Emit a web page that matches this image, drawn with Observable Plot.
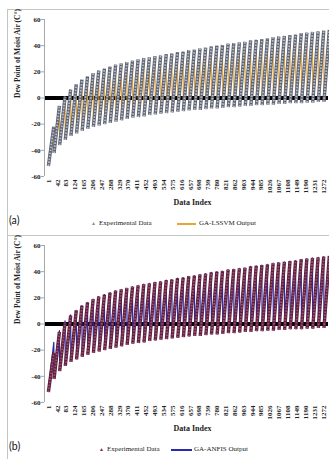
<!DOCTYPE html>
<html><head><meta charset="utf-8">
<script src="https://cdn.jsdelivr.net/npm/d3@7"></script>
<script src="https://cdn.jsdelivr.net/npm/@observablehq/plot@0.6"></script>
<style>
html,body{margin:0;padding:0;background:#fff;width:329px;height:459px;overflow:hidden;position:relative}
.frame{position:absolute;left:7px;width:400px;border:1px solid #c4c4c4;box-sizing:border-box}
.fig{position:absolute;left:0;width:329px}
.fig svg{display:block}
.leg{position:relative;height:24px;font-family:"Liberation Serif",serif;font-size:7px;color:#222}
.leg span{position:absolute;white-space:nowrap;line-height:1}
.leg .tag{font-family:Lato,sans-serif;font-size:10.5px;color:#111}
.leg .ln{height:1.6px}
</style></head><body>
<div class="frame" style="top:9px;height:227px"></div>
<div class="frame" style="top:235px;height:300px"></div>
<div class="fig" id="figA" style="top:9px"></div>
<div class="fig" id="figB" style="top:235px"></div>
<script>
// Data index ticks
const xTicks = [1,42,83,124,165,206,247,288,329,370,411,452,493,534,575,616,657,698,739,780,821,862,903,944,985,1026,1067,1108,1149,1190,1231,1272];
const yTicks = [-60,-40,-20,0,20,40,60];
// Each group of consecutive data indices (one rising sweep)
const groupStart = [1,27,53,79,105,131,157,183,209,235,261,287,313,339,365,391,417,443,469,495,521,547,573,599,625,651,677,703,729,755,781,807,833,859,885,911,937,963,989,1015,1041,1067,1093,1119,1145,1171,1197,1223,1249,1275];
const groupEnd = [26,52,78,104,130,156,182,208,234,260,286,312,338,364,390,416,442,468,494,520,546,572,598,624,650,676,702,728,754,780,806,832,858,884,910,936,962,988,1014,1040,1066,1092,1118,1144,1170,1196,1222,1248,1274,1300];
// Experimental data: lowest and highest dew point in each sweep
const expLow = [-52,-42,-36,-32,-29,-27,-25,-23.5,-22,-21,-20,-19,-18,-17,-16,-15,-14.5,-14,-13,-12.5,-12,-11.5,-11,-10.5,-10,-9.5,-9,-9,-8.5,-8,-8,-7.5,-7,-7,-6.5,-6,-6,-5.5,-5.5,-5,-5,-4.5,-4.5,-4,-4,-4,-3.5,-3.5,-3,-3];
const expHigh = [-22,-6,1,6.5,10.5,14,16.5,19,21,22.5,24,25.5,26.5,27.5,28.5,29.5,30.5,31,32,32.5,33.5,34,35,35.5,36.5,37,38,38.5,39.5,40,40.5,41.5,42,42.5,43,44,44.5,45,45.5,46.5,47,47.5,48,48.5,49.5,50,50.5,51,51.5,52];
// GA-LSSVM output
const lssvmLow = [-49,-40,-34,-30,-27.5,-25.5,-23.5,-22,-20.5,-19.5,-18.5,-17.5,-16.5,-15.5,-14.5,-13.5,-13,-12.5,-11.5,-11,-10.5,-10,-9.5,-9,-8.5,-8,-7.5,-7.5,-7,-6.5,-6.5,-6,-5.5,-5.5,-5,-4.5,-4.5,-4,-4,-3.5,-3.5,-3,-3,-2.5,-2.5,-2.5,-2,-2,-1.5,-1.5];
const lssvmHigh = [-24,-8,-1,5,9,12.5,15,17.5,19.5,21,22.5,24,25,26,27,28,29,29.5,30.5,31,32,32.5,33.5,34,35,35.5,36.5,37,38,38.5,39,40,40.5,41,41.5,42.5,43,43.5,44,45,45.5,46,46.5,47,48,48.5,49,49.5,50,50.5];
// GA-ANFIS output
const anfisLow = [-50,-41,-35,-31.5,-28.5,-26.5,-24.5,-23,-21.5,-20.5,-19.5,-18.5,-17.5,-16.5,-15.5,-14.5,-14,-13.5,-12.5,-12,-11.5,-11,-10.5,-10,-9.5,-9,-8.5,-8.5,-8,-7.5,-7.5,-7,-6.5,-6.5,-6,-5.5,-5.5,-5,-5,-4.5,-4.5,-4,-4,-3.5,-3.5,-3.5,-3,-3,-2.5,-2.5];
const anfisHigh = [-14,-5,2.5,7,10.5,14,16.5,19,21,22.5,24,25.5,26.5,27.5,28.5,29.5,30.5,31,32,32.5,33.5,34,35,35.5,36.5,37,38,38.5,39.5,40,40.5,41.5,42,42.5,43,44,44.5,45,45.5,46.5,47,47.5,48,48.5,49.5,50,50.5,51,51.5,52];

function chart(lineLow, lineHigh, lineColor, colBase, colFill) {
  const cols = groupStart.map((s, i) => ({x1: s, x2: groupEnd[i], y1: expLow[i], y2: expHigh[i]}));
  const path = [];
  groupStart.forEach((s, i) => { path.push({x: s, y: lineLow[i]}); path.push({x: groupEnd[i], y: lineHigh[i]}); });
  return Plot.plot({
    width: 329, height: 203, marginTop: 10, marginBottom: 36, marginLeft: 44, marginRight: 1,
    style: {fontFamily: '"Liberation Serif", serif', fontSize: "7px", fontWeight: "bold", color: "#222", background: "transparent", overflow: "visible"},
    x: {domain: [-17, 1296]},
    y: {domain: [-60, 60]},
    marks: [
      Plot.ruleY([0], {stroke: "#000", strokeWidth: 4}),
      Plot.line(path, {x: "x", y: "y", stroke: lineColor, strokeWidth: 1.2}),
      Plot.link(cols, {x1: "x1", y1: "y1", x2: "x2", y2: "y2", stroke: colBase, strokeWidth: 3.4}),
      Plot.link(cols, {x1: "x1", y1: "y1", x2: "x2", y2: "y2", stroke: colFill, strokeWidth: 1.8, strokeDasharray: "1.6,1.4"}),
      Plot.ruleX([-17], {stroke: "#a8a8a8"}),
      Plot.axisY({ticks: yTicks, tickSize: 3, tickPadding: 1, tickFormat: d => String(d), label: null, stroke: "#a8a8a8"}),
      Plot.axisX({ticks: xTicks, tickSize: 0, tickRotate: -90, tickPadding: 3, tickFormat: d => String(d), label: null}),
      Plot.text(["Data Index"], {text: d => d, frameAnchor: "bottom", dy: 28, dx: 6, fontSize: 8}),
      Plot.text(["Dew Point of Moist Air (C°)"], {text: d => d, frameAnchor: "left", dx: -27, rotate: -90, fontSize: 7.5})
    ]
  });
}

function legend(tag, markColor, lineColor, label, pos) {
  const d = document.createElement("div");
  d.className = "leg";
  d.innerHTML =
    `<span class="tag" style="left:9px;top:3px">${tag}</span>` +
    `<span style="left:${pos[0]}px;top:9px;font-size:5px;color:${markColor}">▲</span>` +
    `<span style="left:${pos[1]}px;top:8px">Experimental Data</span>` +
    `<span class="ln" style="left:${pos[2]}px;top:11px;width:${pos[3]-pos[2]}px;background:${lineColor}"></span>` +
    `<span style="left:${pos[4]}px;top:8px">${label}</span>`;
  return d;
}

const figA = document.getElementById("figA");
figA.append(chart(lssvmLow, lssvmHigh, "#e9a534", "#5d6270", "#b9bdc8"));
figA.append(legend("(a)", "#8a8f9c", "#e9a534", "GA-LSSVM Output", [91, 99, 177, 196, 199]));

const figB = document.getElementById("figB");
figB.append(chart(anfisLow, anfisHigh, "#2a2ab0", "#5a1f3c", "#9c4f72"));
figB.append(legend("(b)", "#7a3050", "#2a2ab0", "GA-ANFIS Output", [99, 107, 171, 192, 194]));
</script>
</body></html>
